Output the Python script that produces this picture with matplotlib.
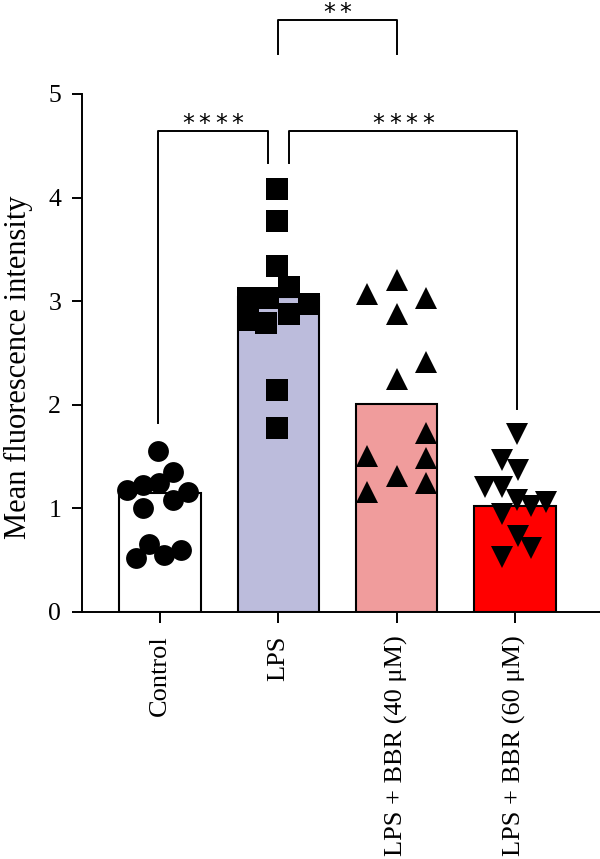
import numpy as np
import matplotlib.pyplot as plt

# group labels and bar heights (means)
groups = ['Control', 'LPS', 'LPS + BBR (40 μM)', 'LPS + BBR (60 μM)']
means = [1.15, 3.04, 2.01, 1.02]

# individual points per group
control = [1.55, 1.35, 1.18, 1.23, 1.25, 1.16, 1.08, 1.00, 0.66, 0.52, 0.55, 0.60]
lps = [4.08, 3.77, 3.34, 3.14, 3.03, 3.03, 2.97, 2.82, 2.79, 2.88, 2.14, 1.78]
bbr40 = [3.20, 3.07, 3.03, 2.88, 2.41, 2.25, 1.73, 1.51, 1.49, 1.31, 1.16, 1.25]
bbr60 = [1.72, 1.47, 1.37, 1.21, 1.21, 1.08, 1.02, 1.06, 0.95, 0.73, 0.62, 0.53]

# horizontal scatter offsets (fraction of group spacing)
ctrl_dx = [-0.02, 0.11, -0.28, -0.14, -0.01, 0.24, 0.11, -0.14, -0.09, -0.20, 0.03, 0.18]
lps_dx = [-0.01, -0.01, -0.01, 0.09, -0.26, -0.09, 0.26, -0.26, -0.10, 0.09, -0.01, -0.01]
b40_dx = [0.0, -0.25, 0.25, 0.0, 0.25, 0.0, 0.25, -0.25, 0.25, 0.0, -0.25, 0.25]
b60_dx = [0.02, -0.11, 0.03, -0.25, -0.11, 0.02, 0.14, 0.26, -0.11, 0.03, 0.14, -0.11]

colors = ['white', '#bcbcdc', '#f09c9c', '#ff0000']
markers = ['o', 's', '^', 'v']
msizes = [15, 16.5, 16, 16]

# significance brackets: x1, x2, y, left leg end, right leg end, number of stars
brackets = [
    (-0.02, 0.91, 4.64, 1.82, 4.33, 4),
    (1.09, 3.02, 4.64, 4.33, 1.96, 4),
    (1.0, 2.0, 5.71, 5.39, 5.39, 2),
]

plt.rcParams['font.family'] = ['Liberation Serif', 'DejaVu Serif']

fig = plt.figure(figsize=(6, 8.59), dpi=100)
ax = fig.add_axes([82 / 600, 247 / 859, 518 / 600, 518 / 859])

x = np.arange(len(groups))
ax.bar(x, means, width=0.69, color=colors, edgecolor='black', linewidth=1.5, zorder=1)

for i, (vals, dx) in enumerate(zip([control, lps, bbr40, bbr60],
                                   [ctrl_dx, lps_dx, b40_dx, b60_dx])):
    ax.plot(i + np.array(dx), vals, linestyle='none', marker=markers[i],
            markersize=msizes[i], color='black', markeredgewidth=0, zorder=3)

pitch = 11.9  # points between stars
for x1, x2, y, yl, yr, n in brackets:
    ax.plot([x1, x1, x2, x2], [yl, y, y, yr], color='black', lw=1.4,
            clip_on=False, zorder=4)
    for k in range(n):
        ax.annotate('*', xy=((x1 + x2) / 2, y),
                    xytext=((k - (n - 1) / 2) * pitch, 0.3),
                    textcoords='offset points', ha='center', va='baseline',
                    fontsize=17, family='DejaVu Sans', annotation_clip=False)

ax.set_xlim(-0.66, 3.72)
ax.set_ylim(0, 5)
ax.set_yticks([0, 1, 2, 3, 4, 5])
ax.set_xticks(x)
ax.set_xticklabels(groups, rotation=90, fontsize=19)
ax.tick_params(axis='y', labelsize=18.5, length=7, width=1.4, pad=8)
ax.tick_params(axis='x', length=8, width=1.4, pad=9)
ax.set_ylabel('Mean fluorescence intensity', fontsize=22)
ax.yaxis.set_label_coords(-0.094, 0.473)

for s in ['top', 'right']:
    ax.spines[s].set_visible(False)
for s in ['left', 'bottom']:
    ax.spines[s].set_linewidth(1.4)

fig.savefig('out.png', dpi=100)
